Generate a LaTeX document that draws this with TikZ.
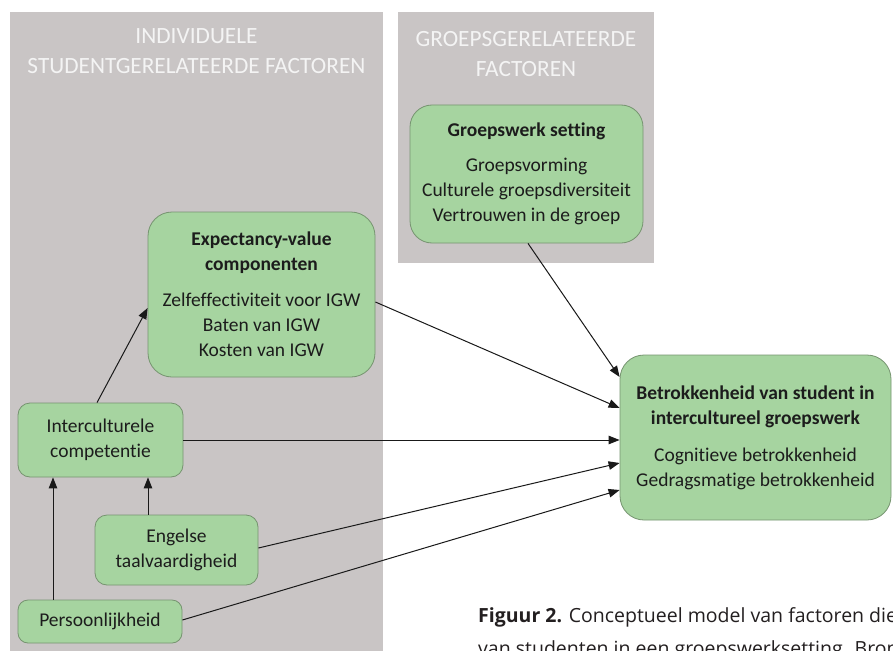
\documentclass[tikz,border=0pt]{standalone}
\usepackage{fontspec}
\setmainfont{Carlito}[RawFeature={-liga}]
\newfontfamily\capfont{Open Sans}
\usetikzlibrary{arrows.meta,calc}
\definecolor{panelgray}{RGB}{201,197,197}
\definecolor{boxgreen}{RGB}{166,212,160}
\definecolor{boxline}{RGB}{118,148,112}
\definecolor{headtext}{RGB}{244,244,244}
\definecolor{nodetext}{RGB}{28,28,28}
\definecolor{captext}{RGB}{35,31,32}
\begin{document}
\begin{tikzpicture}[x=1pt,y=-1pt,
  panel/.style={fill=panelgray,draw=none},
  heading/.style={text=headtext,font=\fontsize{23.3}{30.5}\selectfont,align=center,inner sep=0pt},
  box/.style={draw=boxline,line width=0.8pt,fill=boxgreen,text=nodetext,align=center,inner sep=0pt,font=\fontsize{19.5}{25}\selectfont},
  conn/.style={draw=black!90,line width=1pt,-{Triangle[length=11pt,width=8.5pt]}},
  caption/.style={text=captext,font=\capfont\fontsize{19.5}{31}\selectfont,anchor=base west,inner sep=0pt}
]
\useasboundingbox (0,0) rectangle (893,650);
\clip (0,0) rectangle (893,650);
\fill[white] (0,0) rectangle (893,650);

% panels
\path[panel] (10,12) rectangle (383,652);
\path[panel] (398,12) rectangle (654,263);
\node[heading] (h1) at (196.5,51) {INDIVIDUELE\\STUDENTGERELATEERDE FACTOREN};
\node[heading] (h2) at (526,54) {GROEPSGERELATEERDE\\FACTOREN};

% boxes
\node[box,rounded corners=22pt,minimum width=233pt,minimum height=138pt] (gw) at (526.5,174)
  {\textbf{Groepswerk setting}\\[10pt]Groepsvorming\\Culturele groepsdiversiteit\\Vertrouwen in de groep};
\node[box,rounded corners=24pt,minimum width=227pt,minimum height=165pt] (ev) at (261.5,294.5)
  {\textbf{Expectancy-value}\\\textbf{componenten}\\[11pt]Zelfeffectiviteit voor IGW\\Baten van IGW\\Kosten van IGW};
\node[box,rounded corners=24pt,minimum width=271pt,minimum height=165pt] (bt) at (755.5,437.5)
  {\textbf{Betrokkenheid van student in}\\\textbf{intercultureel groepswerk}\\[12pt]Cognitieve betrokkenheid\\Gedragsmatige betrokkenheid};
\node[box,rounded corners=12pt,minimum width=165pt,minimum height=74pt] (ic) at (100.5,440)
  {Interculturele\\competentie};
\node[box,rounded corners=12pt,minimum width=163pt,minimum height=70pt] (en) at (176.5,550)
  {Engelse\\taalvaardigheid};
\node[box,rounded corners=10pt,minimum width=164pt,minimum height=43pt] (pe) at (100,621.5)
  {Persoonlijkheid};

% connectors
\draw[conn] ([xshift=1.5pt]gw.south) -- ([yshift=60.5pt]bt.west);
\draw[conn] ([yshift=-7.5pt]ev.east) -- ([yshift=29.5pt]bt.west);
\draw[conn] (ic.east) -- (ic.east -| bt.west);
\draw[conn] ([yshift=2pt]en.east) -- ([yshift=-25.5pt]bt.west);
\draw[conn] ([yshift=1.5pt]pe.east) -- ([yshift=-52.5pt]bt.west);
\draw[conn] ([xshift=-3.5pt]ic.north) -- ([yshift=-13.5pt]ev.west);
\draw[conn] ([xshift=-28.5pt]en.north) -- ([xshift=-28.5pt]en.north |- ic.south);
\draw[conn] ([xshift=-47pt]pe.north) -- ([xshift=-47pt]pe.north |- ic.south);

% caption (cut off by the picture's edges, as in the reference)
\node[caption] (cap1) at (478,622) {\textbf{Figuur 2.} Conceptueel model van factoren die};
\node[caption] (cap2) at (478,655) {van studenten in een groepswerksetting. Bron};
\end{tikzpicture}
\end{document}
